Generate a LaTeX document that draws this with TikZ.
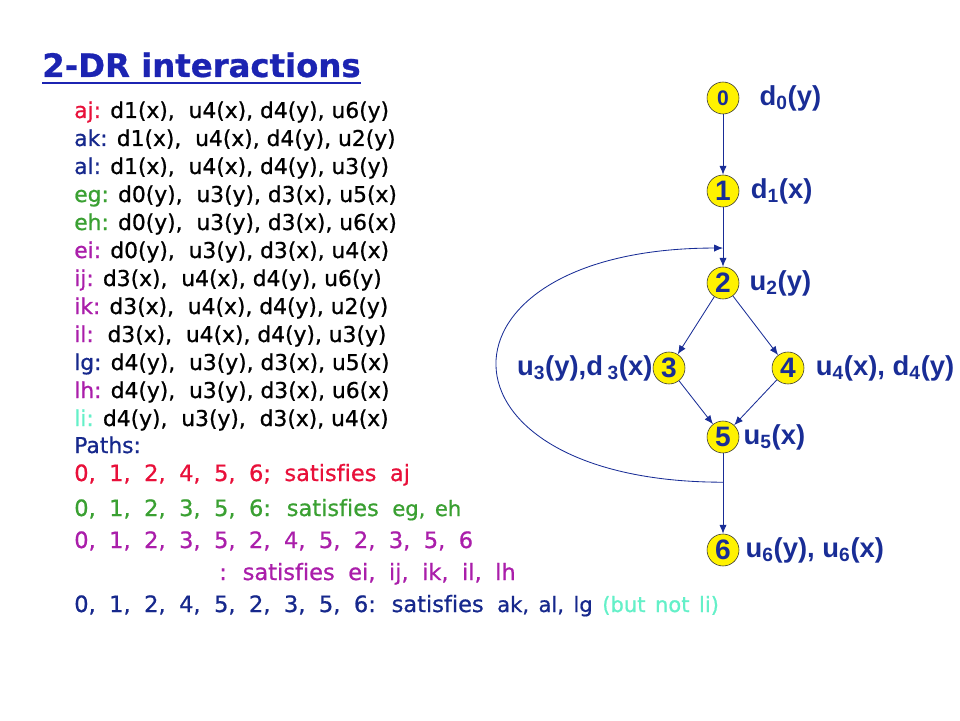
\documentclass[tikz,border=0pt]{standalone}
\usepackage{fontspec}
\usepackage{xcolor}
\usetikzlibrary{arrows.meta}
\usetikzlibrary{calc}
\usetikzlibrary{positioning}

\newfontfamily\comicfont{DejaVu Sans}[Ligatures = NoCommon, FakeBold = 0.8]
\newfontfamily\arialfont{Liberation Sans}
\newcommand\pathsize{\fontsize{16pt}{19pt}\selectfont\spaceskip=0.6em\relax}
\newcommand\smallpath{\fontsize{15pt}{18pt}\selectfont\spaceskip=0.45em\relax}

\definecolor{titleblue}{RGB}{28,36,178}
\definecolor{navy}{RGB}{22,40,140}
\definecolor{graphblue}{RGB}{25,45,150}
\definecolor{ajred}{RGB}{232,16,58}
\definecolor{eggreen}{RGB}{58,160,50}
\definecolor{eipurple}{RGB}{170,30,170}
\definecolor{liaqua}{RGB}{100,240,200}

\begin{document}
\begin{tikzpicture}
[
	vertex/.style	= {circle, draw = black!80, fill = yellow, minimum size = 0.8cm, inner sep = 0cm, text = graphblue, font = \arialfont\bfseries\fontsize{20pt}{22pt}\selectfont, on grid},
	lab/.style	= {inner sep = 0cm, text = graphblue, font = \arialfont\bfseries\fontsize{19.5pt}{21pt}\selectfont},
	inter/.style	= {inner sep = 0cm, anchor = base west, font = \comicfont\fontsize{15.5pt}{18pt}\selectfont},
	pathline/.style	= {inter, font = \comicfont\pathsize},
	edge/.style	= {draw = graphblue, line width = 0.6pt, -{Latex[length = 2.2mm, width = 1.8mm]}},
]

	\useasboundingbox (0,0) rectangle (24,18);

	% title
	\node (title) [inner sep = 0cm, anchor = base west, text = titleblue, font = \comicfont\bfseries\fontsize{23pt}{26pt}\selectfont] at (1.05,16.075) {2-DR interactions};
	\draw [titleblue, line width = 2.1pt] ([yshift = -0.15cm]title.base west) -- ([yshift = -0.15cm]title.base east);

	% interactions
	\node (aj) [inter] at (1.85,15.05) {\textcolor{ajred}{aj:} d1(x),\ \ u4(x), d4(y), u6(y)};
	\node (ak) [inter, below = 0.7cm of aj.base west, anchor = base west] {\textcolor{navy}{ak:} d1(x),\ \ u4(x), d4(y), u2(y)};
	\node (al) [inter, below = 0.7cm of ak.base west, anchor = base west] {\textcolor{navy}{al:} d1(x),\ \ u4(x), d4(y), u3(y)};
	\node (eg) [inter, below = 0.7cm of al.base west, anchor = base west] {\textcolor{eggreen}{eg:} d0(y),\ \ u3(y), d3(x), u5(x)};
	\node (eh) [inter, below = 0.7cm of eg.base west, anchor = base west] {\textcolor{eggreen}{eh:} d0(y),\ \ u3(y), d3(x), u6(x)};
	\node (ei) [inter, below = 0.7cm of eh.base west, anchor = base west] {\textcolor{eipurple}{ei:} d0(y),\ \ u3(y), d3(x), u4(x)};
	\node (ij) [inter, below = 0.7cm of ei.base west, anchor = base west] {\textcolor{eipurple}{ij:} d3(x),\ \ u4(x), d4(y), u6(y)};
	\node (ik) [inter, below = 0.7cm of ij.base west, anchor = base west] {\textcolor{eipurple}{ik:} d3(x),\ \ u4(x), d4(y), u2(y)};
	\node (il) [inter, below = 0.7cm of ik.base west, anchor = base west] {\textcolor{eipurple}{il:}\ \ d3(x),\ \ u4(x), d4(y), u3(y)};
	\node (lg) [inter, below = 0.7cm of il.base west, anchor = base west] {\textcolor{navy}{lg:} d4(y),\ \ u3(y), d3(x), u5(x)};
	\node (lh) [inter, below = 0.7cm of lg.base west, anchor = base west] {\textcolor{eipurple}{lh:} d4(y),\ \ u3(y), d3(x), u6(x)};
	\node (li) [inter, below = 0.7cm of lh.base west, anchor = base west] {\textcolor{liaqua}{li:} d4(y),\ \ u3(y),\ \ d3(x), u4(x)};
	%
	\node (paths) [inter, text = navy, below = 0.675cm of li.base west, anchor = base west] {Paths:};
	\node (path1) [pathline, text = ajred, below = 0.7cm of paths.base west, anchor = base west] {0, 1, 2, 4, 5, 6; satisfies aj};
	\node (path2) [pathline, text = eggreen, below = 0.875cm of path1.base west, anchor = base west] {0, 1, 2, 3, 5, 6: satisfies {\smallpath eg, eh}};
	\node (path3) [pathline, text = eipurple, below = 0.8cm of path2.base west, anchor = base west] {0, 1, 2, 3, 5, 2, 4, 5, 2, 3, 5, 6};
	\node (path3b) [pathline, text = eipurple, below = 0.8cm of path3.base west, anchor = base west, xshift = 3.625cm] {: satisfies ei, ij, ik, il, lh};
	\node (path4) [pathline, text = navy, below = 1.6cm of path3.base west, anchor = base west] {0, 1, 2, 4, 5, 2, 3, 5, 6: satisfies {\smallpath ak, al, lg \textcolor{liaqua}{(but not li)}}};

	% flow graph
	\node (n0) [vertex, font = \arialfont\bfseries\fontsize{15pt}{17pt}\selectfont] at (18.075,15.55) {0};
	\node (n1) [vertex, below = 2.325cm of n0] {1};
	\node (n2) [vertex, below = 2.3cm of n1] {2};
	\node (n3) [vertex, below left = 2.125cm and 1.35cm of n2] {3};
	\node (n4) [vertex, below right = 2.125cm and 1.625cm of n2] {4};
	\node (n5) [vertex, below = 3.85cm of n2] {5};
	\node (n6) [vertex, below = 2.825cm of n5] {6};
	%
	\node (l0) [lab, right = 0.5cm of n0] {d\textsubscript{0}(y)};
	\node (l1) [lab, right = 0.28cm of n1] {d\textsubscript{1}(x)};
	\node (l2) [lab, right = 0.25cm of n2] {u\textsubscript{2}(y)};
	\node (l3) [lab, left = 0cm of n3] {u\textsubscript{3}(y),d\,\textsubscript{3}(x)};
	\node (l4) [lab, right = 0.28cm of n4] {u\textsubscript{4}(x), d\textsubscript{4}(y)};
	\node (l5) [lab, right = 0.1cm of n5] {u\textsubscript{5}(x)};
	\node (l6) [lab, right = 0.15cm of n6] {u\textsubscript{6}(y), u\textsubscript{6}(x)};

	\coordinate (loopin) at ($(n1)!0.62!(n2)$);
	\coordinate (loopout) at ($(n5)!0.4!(n6)$);

	\draw [edge] (n0) -- (n1);
	\draw [edge] (n1) -- (n2);
	\draw [edge] (n2) -- (n3);
	\draw [edge] (n2) -- (n4);
	\draw [edge] (n3) -- (n5);
	\draw [edge] (n4) -- (n5);
	\draw [edge] (n5) -- (n6);
	%
	\draw [edge, out = 180, in = 180, looseness = 3.3] (loopout) to (loopin);

\end{tikzpicture}
\end{document}
